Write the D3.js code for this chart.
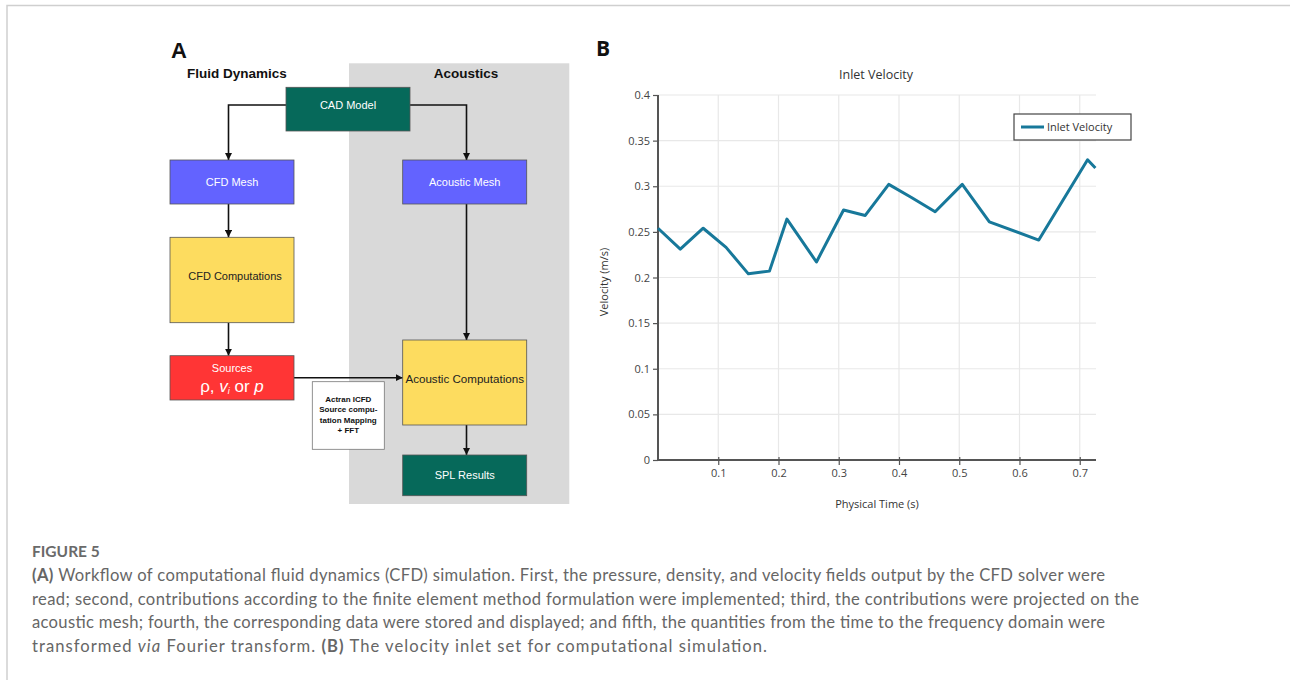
<!DOCTYPE html>
<html>
<head>
<meta charset="utf-8">
<style>
 body { margin: 0; background: #fff; }
 svg { display: block; }
 .flow text { font-family: "Liberation Sans", Arial, sans-serif; }
 .chart text { font-family: "Open Sans", "Noto Sans", sans-serif; fill: #333; }
 .cap { font-family: Lato, "Open Sans", sans-serif; fill: #666; }
</style>
</head>
<body>
<svg width="1290" height="680"></svg>
<script src="https://cdn.jsdelivr.net/npm/d3@7"></script>
<script>
// ---- panel B data ----
var timeVals = [0, 0.037, 0.075, 0.113, 0.15, 0.185, 0.214, 0.263, 0.308, 0.344, 0.383, 0.42, 0.46, 0.505, 0.55, 0.632, 0.713, 0.726];
var velVals  = [0.254, 0.231, 0.254, 0.233, 0.204, 0.207, 0.264, 0.217, 0.274, 0.268, 0.302, 0.288, 0.272, 0.302, 0.261, 0.241, 0.329, 0.320];
var yTicks = [0, 0.05, 0.1, 0.15, 0.2, 0.25, 0.3, 0.35, 0.4];
var xTicks = [0.1, 0.2, 0.3, 0.4, 0.5, 0.6, 0.7];
var seriesName = "Inlet Velocity";

// ---- panel A data ----
var columns = ["Fluid Dynamics", "Acoustics"];
var flowNodes = [
  {id: "cad", label: ["CAD Model"], kind: "green"},
  {id: "cfdmesh", label: ["CFD Mesh"], kind: "blue"},
  {id: "acmesh", label: ["Acoustic Mesh"], kind: "blue"},
  {id: "cfdcomp", label: ["CFD Computations"], kind: "yellow"},
  {id: "sources", label: ["Sources"], kind: "red"},
  {id: "accomp", label: ["Acoustic Computations"], kind: "yellow"},
  {id: "spl", label: ["SPL Results"], kind: "green"}
];
var noteLines = ["Actran ICFD", "Source compu-", "tation Mapping", "+ FFT"];

var captionLines = [
  [["b", "(A)"], ["n", " Workflow of computational fluid dynamics (CFD) simulation. First, the pressure, density, and velocity fields output by the CFD solver were"]],
  [["n", "read; second, contributions according to the finite element method formulation were implemented; third, the contributions were projected on the"]],
  [["n", "acoustic mesh; fourth, the corresponding data were stored and displayed; and fifth, the quantities from the time to the frequency domain were"]],
  [["n", "transformed "], ["i", "via"], ["n", " Fourier transform. "], ["b", "(B)"], ["n", " The velocity inlet set for computational simulation."]]
];
var captionWidths = [1073, 1107, 1073, 735];

var fills = {green: "#06695a", blue: "#6363ff", yellow: "#fddc5f", red: "#ff3535"};

var svg = d3.select("svg");

// page frame
svg.append("path").attr("d", "M7,680 V5.5 H1290")
   .attr("fill", "none").attr("stroke", "#cfcfcf").attr("stroke-width", 1.5);

// ================= panel A =================
var fa = svg.append("g").attr("class", "flow");
var defs = svg.append("defs");
defs.append("marker").attr("id", "arr").attr("viewBox", "0 0 10 10")
    .attr("refX", 10).attr("refY", 5).attr("markerWidth", 4.5).attr("markerHeight", 4.5)
    .attr("orient", "auto")
  .append("path").attr("d", "M0,0 L10,5 L0,10 z").attr("fill", "#111");

var colX = d3.scaleOrdinal().domain(columns).range([170, 402.7]);
var boxW = 124;
var pos = {
  cad:     {x: 286,   y: 87.3,  w: 124, h: 43.7},
  cfdmesh: {x: colX("Fluid Dynamics"), y: 160, w: boxW, h: 44},
  acmesh:  {x: colX("Acoustics"),      y: 160, w: boxW, h: 44},
  cfdcomp: {x: colX("Fluid Dynamics"), y: 237.3, w: boxW, h: 85.4},
  sources: {x: colX("Fluid Dynamics"), y: 355.7, w: boxW, h: 44.3},
  accomp:  {x: colX("Acoustics"),      y: 340, w: boxW, h: 85},
  spl:     {x: colX("Acoustics"),      y: 455, w: boxW, h: 40.7}
};
// connector columns sit a little off the box centres
var leftLink = 228.5, rightLink = 466.5;

fa.append("rect").attr("x", 349).attr("y", 63.3).attr("width", 220.3).attr("height", 440.7)
  .attr("fill", "#d9d9d9");

fa.append("text").attr("x", 171).attr("y", 58).attr("font-size", 22).attr("font-weight", "bold")
  .attr("fill", "#111").text("A");
fa.selectAll(".colhead").data(columns).enter().append("text")
  .attr("x", function(d, i) { return i === 0 ? 237 : 466; }).attr("y", 78)
  .attr("text-anchor", "middle").attr("font-size", 13.5).attr("font-weight", "bold")
  .attr("fill", "#111").text(function(d) { return d; });

function cx(id) { return pos[id].x + pos[id].w / 2; }
function bottom(id) { return pos[id].y + pos[id].h; }

var links = [
  "M" + pos.cad.x + ",105 H" + leftLink + " V" + pos.cfdmesh.y,
  "M" + (pos.cad.x + pos.cad.w) + ",105 H" + rightLink + " V" + pos.acmesh.y,
  "M" + leftLink + "," + bottom("cfdmesh") + " V" + pos.cfdcomp.y,
  "M" + leftLink + "," + bottom("cfdcomp") + " V" + pos.sources.y,
  "M" + rightLink + "," + bottom("acmesh") + " V" + pos.accomp.y,
  "M" + (pos.sources.x + pos.sources.w) + ",377.7 H" + pos.accomp.x,
  "M" + rightLink + "," + bottom("accomp") + " V" + pos.spl.y
];
fa.selectAll(".link").data(links).enter().append("path")
  .attr("d", function(d) { return d; }).attr("fill", "none")
  .attr("stroke", "#111").attr("stroke-width", 1.6).attr("marker-end", "url(#arr)");

var nodeG = fa.selectAll(".node").data(flowNodes).enter().append("g");
nodeG.append("rect")
  .attr("x", function(d) { return pos[d.id].x; }).attr("y", function(d) { return pos[d.id].y; })
  .attr("width", function(d) { return pos[d.id].w; }).attr("height", function(d) { return pos[d.id].h; })
  .attr("fill", function(d) { return fills[d.kind]; })
  .attr("stroke", "#555").attr("stroke-width", 0.8);
nodeG.append("text")
  .attr("x", function(d) { return d.id === "cfdcomp" ? 235 : cx(d.id); })
  .attr("y", function(d) {
    if (d.id === "sources") return pos[d.id].y + 16;
    if (d.id === "accomp") return 383;
    if (d.id === "cad") return 109;
    if (d.id === "cfdcomp") return 280;
    return pos[d.id].y + pos[d.id].h / 2 + 4;
  })
  .attr("text-anchor", "middle")
  .attr("font-size", function(d) { return d.id === "accomp" ? 11.6 : 11; })
  .attr("fill", function(d) { return d.kind === "yellow" ? "#222" : "#fff"; })
  .text(function(d) { return d.label[0]; });

// symbols line in Sources box
var sym = fa.append("text").attr("x", cx("sources")).attr("y", 392)
  .attr("text-anchor", "middle").attr("font-size", 17).attr("fill", "#fff");
sym.append("tspan").text("ρ, ");
sym.append("tspan").attr("font-style", "italic").text("v");
sym.append("tspan").attr("font-style", "italic").attr("font-size", 9).attr("dy", 2).text("i");
sym.append("tspan").attr("dy", -2).text(" or ");
sym.append("tspan").attr("font-style", "italic").text("p");

// Actran note box
fa.append("rect").attr("x", 312.3).attr("y", 381.7).attr("width", 72).attr("height", 67.6)
  .attr("fill", "#fff").attr("stroke", "#777").attr("stroke-width", 0.8);
fa.selectAll(".note").data(noteLines).enter().append("text")
  .attr("x", 348.3).attr("y", function(d, i) { return 402 + i * 10.4; })
  .attr("text-anchor", "middle").attr("font-size", 8).attr("font-weight", "bold")
  .attr("fill", "#111").text(function(d) { return d; });

// ================= panel B =================
var gb = svg.append("g").attr("class", "chart");
var x = d3.scaleLinear().domain([0, 0.727]).range([658, 1096]);
var y = d3.scaleLinear().domain([0, 0.4]).range([460, 95]);

gb.append("text").attr("x", 596).attr("y", 56).attr("font-size", 21).attr("font-weight", "bold")
  .style("fill", "#111").text("B");

// grid
gb.append("g").selectAll("line").data(yTicks.filter(function(d) { return d > 0; })).enter().append("line")
  .attr("x1", x(0)).attr("x2", x.range()[1]).attr("y1", function(d) { return y(d); })
  .attr("y2", function(d) { return y(d); }).attr("stroke", "#e8e8e8").attr("stroke-width", 1.2);
gb.append("g").selectAll("line").data(xTicks).enter().append("line")
  .attr("x1", function(d) { return x(d); }).attr("x2", function(d) { return x(d); })
  .attr("y1", y(0.4)).attr("y2", y(0)).attr("stroke", "#e8e8e8").attr("stroke-width", 1.2);

var fmt = function(d) { return d === 0 ? "0" : String(+d.toFixed(2)); };
var yAxis = gb.append("g").attr("transform", "translate(" + x(0) + ",0)")
  .call(d3.axisLeft(y).tickValues(yTicks).tickFormat(fmt).tickSize(5).tickPadding(3));
var xAxis = gb.append("g").attr("transform", "translate(0," + y(0) + ")")
  .call(d3.axisBottom(x).tickValues(xTicks).tickFormat(fmt).tickSize(5).tickPadding(4));
[yAxis, xAxis].forEach(function(a) {
  a.select(".domain").attr("stroke", "#555").attr("stroke-width", 2);
  a.selectAll(".tick line").attr("stroke", "#555").attr("stroke-width", 1.2);
  a.selectAll(".tick text").attr("font-size", 11).style("fill", "#444")
    .attr("font-family", "'Open Sans', 'Noto Sans', sans-serif");
});
xAxis.select(".domain").attr("d", "M" + x(0) + ",0H" + x.range()[1]);
yAxis.select(".domain").attr("d", "M0," + y(0) + "V" + y(0.4));
xAxis.selectAll(".tick line").attr("y1", -3);

var pts = timeVals.map(function(t, i) { return [t, velVals[i]]; });
gb.append("path").datum(pts)
  .attr("fill", "none").attr("stroke", "#17789a").attr("stroke-width", 3)
  .attr("stroke-linejoin", "round")
  .attr("d", d3.line().x(function(d) { return x(d[0]); }).y(function(d) { return y(d[1]); }));

gb.append("text").attr("x", 876).attr("y", 79).attr("text-anchor", "middle")
  .attr("font-size", 12.5).text(seriesName);
gb.append("text").attr("x", 877).attr("y", 508).attr("text-anchor", "middle")
  .attr("font-size", 11).text("Physical Time (s)");
gb.append("text").attr("transform", "translate(608,282) rotate(-90)").attr("text-anchor", "middle")
  .attr("font-size", 11).text("Velocity  (m/s)");

// legend
var lg = gb.append("g");
lg.append("rect").attr("x", 1014).attr("y", 114).attr("width", 117).attr("height", 26)
  .attr("fill", "#fff").attr("stroke", "#444").attr("stroke-width", 1.2);
lg.append("line").attr("x1", 1021).attr("x2", 1044).attr("y1", 127).attr("y2", 127)
  .attr("stroke", "#17789a").attr("stroke-width", 3);
lg.append("text").attr("x", 1047).attr("y", 131).attr("font-size", 11).text(seriesName);

// ================= caption =================
svg.append("text").attr("class", "cap").attr("x", 32).attr("y", 557)
  .attr("font-size", 15.5).attr("font-weight", "bold").style("fill", "#6a6a6a").text("FIGURE 5");
svg.selectAll(".capline").data(captionLines).enter().append("text")
  .attr("class", "cap").attr("x", 32).attr("y", function(d, i) { return 581 + i * 23.7; })
  .attr("font-size", 16.6)
  .attr("textLength", function(d, i) { return captionWidths[i]; })
  .attr("lengthAdjust", "spacing")
  .each(function(parts) {
    var t = d3.select(this);
    parts.forEach(function(p) {
      var s = t.append("tspan").text(p[1]);
      if (p[0] === "b") s.attr("font-weight", "bold");
      if (p[0] === "i") s.attr("font-style", "italic");
    });
  });
</script>
</body>
</html>
